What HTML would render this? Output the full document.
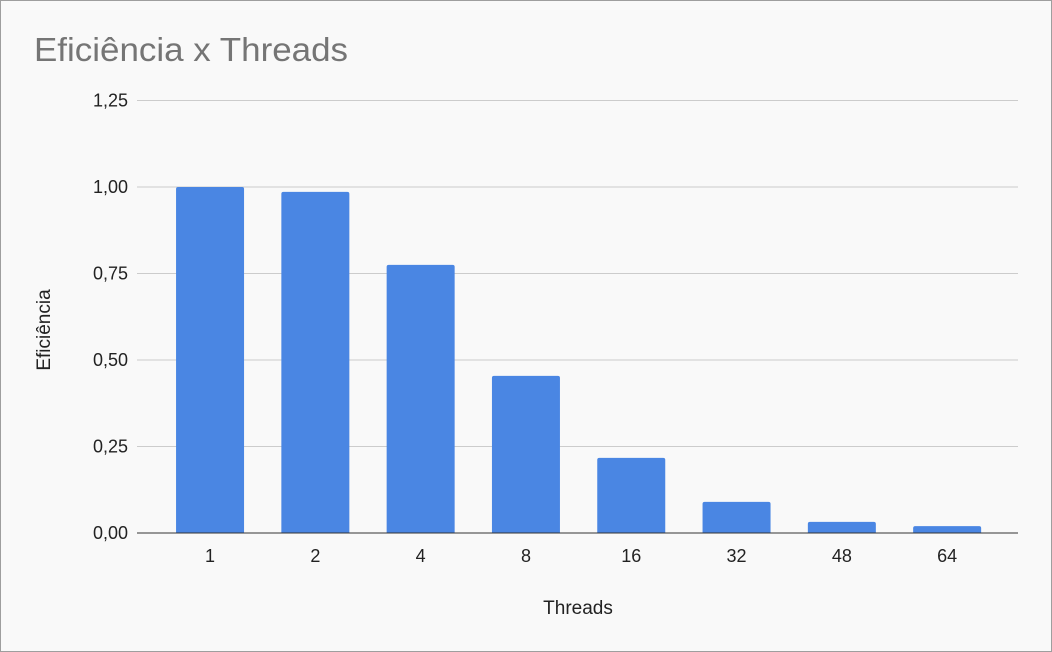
<!DOCTYPE html>
<html><head><meta charset="utf-8"><style>
html,body{margin:0;padding:0;background:#f9f9f9;}
#wrap{position:relative;width:1050px;height:650px;border:1px solid #9e9e9e;background:#f9f9f9;font-family:"Liberation Sans",Arial,sans-serif;}
svg{position:absolute;left:0;top:0;}
</style></head><body>
<div id="wrap">
<svg id="chart" width="1050" height="650"></svg>
</div>
<script>
const categories = ["1","2","4","8","16","32","48","64"];
const efficiency = [1.00, 0.986, 0.775, 0.454, 0.217, 0.090, 0.032, 0.020];
const yTicks = [0, 0.25, 0.5, 0.75, 1.0, 1.25];
const yTickLabels = ["0,00","0,25","0,50","0,75","1,00","1,25"];

const NS = "http://www.w3.org/2000/svg";
const svg = document.getElementById("chart");
const plotLeft = 136, plotRight = 1017, y0 = 532, pxPerUnit = 346;
const catStart = 156.4, catStep = 105.3, barW = 68;
function yScale(v){ return y0 - v*pxPerUnit; }
function xCenter(i){ return catStart + catStep*(i+0.5); }
function mk(tag, attrs, text){
  const e = document.createElementNS(NS, tag);
  for (const k in attrs) e.setAttribute(k, attrs[k]);
  if (text !== undefined) e.textContent = text;
  svg.appendChild(e);
  return e;
}
let t = mk("text",{x:33,y:60,"font-size":"33",fill:"#757575",textLength:"314",lengthAdjust:"spacingAndGlyphs"},"Eficiência x Threads");



yTicks.forEach((v,i)=>{
  const y = yScale(v);
  if (i>0){
    const g = mk("line",{x1:plotLeft,x2:plotRight,y1:y,y2:y,stroke:"#cccccc","stroke-width":1});
    
    
  }
  const l = mk("text",{x:127,y:y+6,"font-size":"18","text-anchor":"end",fill:"#222"},yTickLabels[i]);
  
  
});

efficiency.forEach((v,i)=>{
  const cx = xCenter(i);
  const top = yScale(v);
  const r = mk("path",{d:`M${cx-barW/2},${y0} V${top+2} Q${cx-barW/2},${top} ${cx-barW/2+2},${top} H${cx+barW/2-2} Q${cx+barW/2},${top} ${cx+barW/2},${top+2} V${y0} Z`,fill:"#4a86e3"});
  
  
  const l = mk("text",{x:cx,y:561,"font-size":"18","text-anchor":"middle",fill:"#222"},categories[i]);
  
  
});

const ax = mk("line",{x1:plotLeft,x2:plotRight,y1:y0,y2:y0,stroke:"#333","stroke-width":1});



const xt = mk("text",{x:577,y:613,"font-size":"19","text-anchor":"middle",fill:"#222"},"Threads");


const yt = mk("text",{x:0,y:0,"font-size":"19","text-anchor":"middle",fill:"#222",transform:"translate(49,329) rotate(-90)"},"Eficiência");


</script>
</body></html>
